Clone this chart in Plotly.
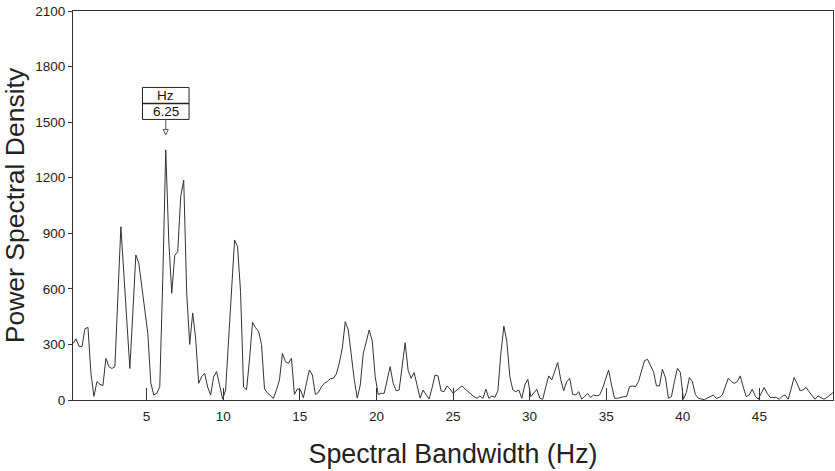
import plotly.graph_objects as go

# Frequency bins (Hz): FFT resolution 100/512 Hz, bins 1..255
freq_bins = [k * 100 / 512 for k in range(1, 256)]

psd_values = [
    305, 330, 290, 288, 385, 392, 144, 20, 99, 85,
    78, 225, 180, 170, 180, 560, 935, 680, 400, 170,
    470, 783, 738, 612, 504, 360, 92, 27, 36, 72,
    650, 1350, 864, 576, 780, 800, 1100, 1187, 580, 300,
    470, 330, 90, 126, 144, 70, 27, 126, 153, 72,
    5, 54, 324, 650, 864, 827, 585, 70, 55, 220,
    420, 390, 372, 300, 60, 38, 20, 8, 55, 108,
    252, 207, 198, 225, 30, 60, 55, 12, 90, 162,
    135, 30, 40, 70, 90, 100, 115, 117, 140, 200,
    280, 423, 378, 225, 110, 10, 80, 250, 320, 378,
    320, 126, 30, 36, 36, 100, 180, 90, 50, 54,
    180, 309, 160, 117, 148, 85, 10, 54, 27, 5,
    65, 135, 130, 50, 45, 76, 60, 36, 50, 65,
    76, 60, 45, 30, 18, 9, 22, 9, 58, 9,
    22, 14, 50, 252, 399, 315, 126, 54, 45, 54,
    9, 81, 112, 18, 36, 58, 9, 4, 70, 130,
    108, 155, 202, 110, 50, 99, 117, 30, 27, 45,
    5, 18, 36, 14, 27, 22, 27, 63, 115, 162,
    80, 9, 9, 15, 18, 18, 72, 76, 72, 100,
    150, 212, 220, 189, 153, 76, 76, 166, 120, 9,
    18, 100, 171, 148, 4, 40, 122, 99, 30, 9,
    5, 2, 10, 18, 27, 9, 14, 27, 70, 117,
    100, 90, 99, 130, 70, 18, 27, 58, 22, 4,
    36, 68, 36, 14, 14, 14, 4, 20, 27, 4,
    60, 121, 90, 50, 55, 68, 45, 25, 4, 22,
    12, 4, 14, 25, 40,
]

x_tick_vals = [5, 10, 15, 20, 25, 30, 35, 40, 45]
y_tick_vals = [0, 300, 600, 900, 1200, 1500, 1800, 2100]

peak_idx = max(range(len(psd_values)), key=lambda i: psd_values[i])
peak_x = freq_bins[peak_idx]
peak_y = psd_values[peak_idx]

FONT = "Liberation Sans, Arial, sans-serif"
AX = "#333333"

fig = go.Figure()
fig.add_trace(go.Scatter(
    x=freq_bins, y=psd_values, mode="lines",
    line=dict(color="#333333", width=1), hoverinfo="x+y", showlegend=False,
))

# annotation box (pixel sized, anchored at the peak)
common = dict(xref="x", yref="y", xsizemode="pixel", ysizemode="pixel",
              xanchor=peak_x, yanchor=peak_y)
fig.add_shape(type="rect", x0=-23.3, x1=23.3, y0=30.5, y1=62.5,
              line=dict(color="#222", width=1), fillcolor="white", **common)
fig.add_shape(type="line", x0=-23.3, x1=23.3, y0=46.5, y1=46.5,
              line=dict(color="#222", width=1.5), **common)
fig.add_shape(type="line", x0=0, x1=0, y0=30.5, y1=20.5,
              line=dict(color="#555", width=1), **common)
fig.add_shape(type="path", path="M -2.5 20.5 L 2.5 20.5 L 0 15 Z",
              line=dict(color="#555", width=1), fillcolor="white", **common)

fig.add_annotation(x=peak_x, y=peak_y, xref="x", yref="y", text="Hz",
                   showarrow=False, yshift=54.5, yanchor="middle",
                   font=dict(family=FONT, size=13.5, color="#111"))
fig.add_annotation(x=peak_x, y=peak_y, xref="x", yref="y", text=f"{peak_x:.2f}",
                   showarrow=False, yshift=38.5, yanchor="middle",
                   font=dict(family=FONT, size=13.5, color="#111"))

fig.update_layout(
    width=835, height=471,
    margin=dict(l=73, r=2, t=11, b=71),
    paper_bgcolor="white", plot_bgcolor="white",
    font=dict(family=FONT, color="#222"),
    xaxis=dict(
        range=[freq_bins[0], freq_bins[-1]], tickvals=x_tick_vals,
        ticks="inside", ticklen=12, tickcolor=AX, tickwidth=1,
        showline=True, linecolor=AX, linewidth=1, mirror=True,
        showgrid=False, zeroline=False, automargin=False,
        ticklabelstandoff=4,
        tickfont=dict(family=FONT, size=13.5, color="#222"),
        title=dict(text="Spectral Bandwidth (Hz)", standoff=21,
                   font=dict(family=FONT, size=26.8, color="#222")),
    ),
    xaxis2=dict(
        overlaying="x", side="top", range=[freq_bins[0], freq_bins[-1]],
        tickvals=x_tick_vals, ticks="inside", ticklen=5, tickcolor=AX,
        showticklabels=False, showline=False, showgrid=False, zeroline=False,
        automargin=False,
    ),
    yaxis=dict(
        range=[0, 2100], tickvals=y_tick_vals,
        ticks="outside", ticklen=4, tickcolor=AX, tickwidth=1,
        showline=True, linecolor=AX, linewidth=1, mirror=True,
        showgrid=False, zeroline=False, automargin=False,
        tickfont=dict(family=FONT, size=13.5, color="#222"),
        title=dict(text="Power Spectral Density", standoff=7,
                   font=dict(family=FONT, size=26.5, color="#222")),
    ),
    yaxis2=dict(
        overlaying="y", side="right", range=[0, 2100],
        tickvals=y_tick_vals, ticks="inside", ticklen=5, tickcolor=AX,
        showticklabels=False, showline=False, showgrid=False, zeroline=False,
        automargin=False,
    ),
)

fig.write_html(
    "out.html",
    config={"displayModeBar": False},
    post_script="document.body.style.margin='0px';document.body.style.overflow='hidden';",
)
